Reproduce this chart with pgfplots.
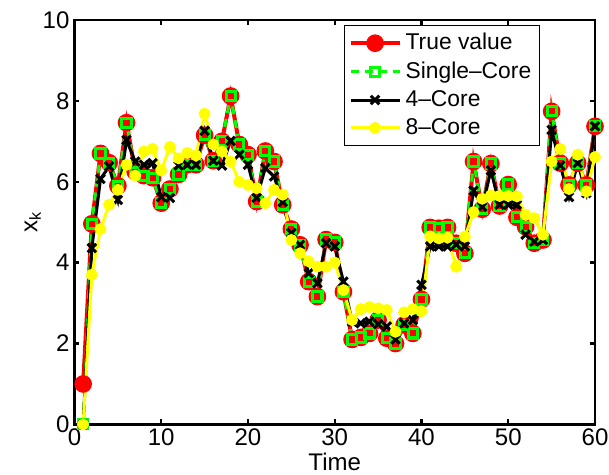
\documentclass[border=0pt]{standalone}
\usepackage{fontspec}
\setmainfont{Liberation Sans}
\usepackage{pgfplots}
\usepackage{pgfplotstable}
\pgfplotsset{compat=1.18}

% t, true value, single core, 4 core, 8 core
\pgfplotstableread{
t  tv    sc    c4    c8
1  1.00  0.00  0.00  0.00
2  4.96  4.96  4.36  3.70
3  6.70  6.70  6.07  4.83
4  6.47  6.47  6.38  5.43
5  5.90  5.90  5.55  5.80
6  7.46  7.46  7.03  6.42
7  6.25  6.25  6.50  6.15
8  6.15  6.15  6.42  6.75
9  6.10  6.10  6.46  6.81
10 5.47  5.47  5.62  6.28
11 5.82  5.82  5.60  6.86
12 6.18  6.18  6.40  6.58
13 6.42  6.42  6.42  6.71
14 6.42  6.42  6.42  6.65
15 7.15  7.15  7.26  7.68
16 6.52  6.52  6.52  6.92
17 7.00  7.00  6.40  6.75
18 8.12  8.12  7.01  6.50
19 6.92  6.92  6.67  6.00
20 6.67  6.67  6.42  5.92
21 5.51  5.51  5.60  5.84
22 6.76  6.76  6.34  5.47
23 6.50  6.50  6.13  5.80
24 5.43  5.43  5.50  5.68
25 4.83  4.83  4.73  4.56
26 4.44  4.44  4.44  4.23
27 3.53  3.53  3.74  4.03
28 3.16  3.16  3.49  3.90
29 4.57  4.57  4.48  3.90
30 4.50  4.50  4.40  4.00
31 3.28  3.28  3.53  3.32
32 2.10  2.10  2.54  2.58
33 2.15  2.15  2.50  2.85
34 2.25  2.25  2.54  2.90
35 2.58  2.58  2.48  2.87
36 2.13  2.13  2.42  2.83
37 2.00  2.00  2.10  2.29
38 2.46  2.46  2.50  2.77
39 2.25  2.25  2.58  2.85
40 3.09  3.09  3.45  2.80
41 4.87  4.87  4.40  4.65
42 4.85  4.85  4.40  4.60
43 4.87  4.87  4.40  4.62
44 4.48  4.48  4.45  3.90
45 4.23  4.23  4.40  4.64
46 6.50  6.50  5.78  5.25
47 5.32  5.32  5.38  5.58
48 6.45  6.45  6.28  5.66
49 5.40  5.40  5.43  5.65
50 5.93  5.93  5.43  5.65
51 5.12  5.12  5.43  5.64
52 4.89  4.89  4.69  5.18
53 4.48  4.48  4.52  5.10
54 4.56  4.56  4.56  4.69
55 7.74  7.74  7.28  6.50
56 6.46  6.46  6.40  6.81
57 5.92  5.92  5.62  5.82
58 6.46  6.46  6.46  6.67
59 5.92  5.92  5.72  5.76
60 7.37  7.37  7.37  6.61
}\datatable

\definecolor{mred}{RGB}{255,0,0}
\definecolor{mgreen}{RGB}{0,255,0}
\definecolor{myellow}{RGB}{255,255,0}

\begin{document}
\begin{tikzpicture}[font=\fontsize{12}{14}\selectfont]
  \begin{axis}[
    scale only axis,
    width=260pt, height=202pt,
    xmin=0, xmax=60, ymin=0, ymax=10,
    xtick={0,10,...,60},
    ytick={0,2,...,10},
    tick align=inside,
    major tick length=2.5pt,
    tick label style={font=\fontsize{12}{14}\selectfont},
    label style={font=\fontsize{12}{14}\selectfont},
    xticklabel style={yshift=1.5pt},
    yticklabel style={xshift=1pt},
    axis line style={line width=1.2pt},
    every tick/.style={black, line width=1.2pt},
    /pgf/number format/assume math mode=true,
    xlabel={Time},
    ylabel={x\textsubscript{k}},
    xlabel style={yshift=3pt},
    ylabel style={yshift=-6pt},
    legend cell align=left,
    legend style={at={(0.894,0.988)}, anchor=north east,
      draw=black, line width=0.6pt, inner sep=2pt,
      row sep=0.5pt, font=\fontsize{11.4}{13}\selectfont},
    legend image code/.code={
      \draw[mark repeat=2,mark phase=2] plot coordinates {(0cm,0cm) (0.43cm,0cm) (0.86cm,0cm)};
    },
  ]
  \addplot[mred, line width=2pt, mark=*, mark size=3.4pt,
    mark options={solid, fill=mred}] table[x=t, y=tv] {\datatable};
  \addlegendentry{True value}
  \addplot[mgreen, line width=1.5pt, dash pattern=on 4pt off 3pt,
    mark=square, mark size=2.3pt, mark options={solid, line width=1.5pt}]
    table[x=t, y=sc] {\datatable};
  \addlegendentry{Single--Core}
  \addplot[black, line width=1.5pt, mark=x, mark size=3pt,
    mark options={solid, line width=1.5pt}] table[x=t, y=c4] {\datatable};
  \addlegendentry{4--Core}
  \addplot[myellow, line width=1.5pt, mark=*, mark size=2.2pt,
    mark options={solid, fill=myellow}] table[x=t, y=c8] {\datatable};
  \addlegendentry{8--Core}
  \coordinate (bl) at (rel axis cs:-0.1431,-0.1248);
  \coordinate (tr) at (rel axis cs:1.0269,1.0494);
  \end{axis}
  \pgfresetboundingbox
  \useasboundingbox (bl) rectangle (tr);
\end{tikzpicture}
\end{document}
